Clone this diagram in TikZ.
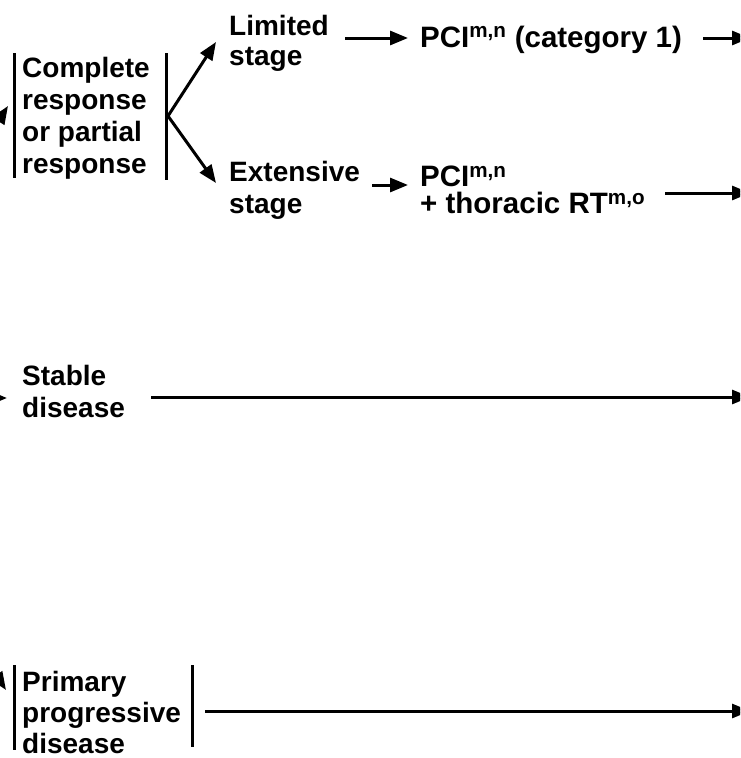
\documentclass[tikz,border=0pt]{standalone}
\usepackage{fontspec}
\setmainfont{Liberation Sans}
\usetikzlibrary{arrows.meta}
\begin{document}
\begin{tikzpicture}[x=1pt,y=-1pt,
  lbl/.style={font=\fontsize{28}{32}\selectfont\bfseries, align=left, anchor=west, inner sep=0pt},
  arr/.style={line width=3pt, -{Triangle[length=18pt,width=14pt]}},
  bar/.style={line width=3pt},
  ln/.style={line width=3pt}]
\useasboundingbox (0,0) rectangle (740,758);
\clip (0,0) rectangle (740,758);

% text nodes
\node[lbl] (cr) at (22,118) {Complete\\response\\or partial\\response};
\node[lbl, font=\fontsize{28}{30}\selectfont\bfseries] (lim) at (229,43) {Limited\\stage};
\node[lbl, font=\fontsize{28}{32}\selectfont\bfseries] (ext) at (229,190) {Extensive\\stage};
\node[lbl, anchor=base west, font=\fontsize{29.5}{32}\selectfont\bfseries] (pci1) at (420,47) {PCI\textsuperscript{m,n} (category 1)};
\node[lbl, font=\fontsize{29.5}{27.5}\selectfont\bfseries] (pci2) at (420,190) {PCI\textsuperscript{m,n}\\+ thoracic RT\textsuperscript{m,o}};
\node[lbl] (sd) at (22,391) {Stable\\disease};
\node[lbl, font=\fontsize{28}{31}\selectfont\bfseries] (pd) at (22,712) {Primary\\progressive\\disease};

% bars
\draw[bar] (14,53) -- (14,178);
\draw[bar] (166,53) -- (166,180);
\draw[bar] (14,665) -- (14,750);
\draw[bar] (192,665) -- (192,747);

% coordinates
\coordinate (fork) at (168,116);
\coordinate (limtip) at (216,42);
\coordinate (exttip) at (216,183);
\coordinate (a1s) at (345,38);
\coordinate (a1e) at (408,38);
\coordinate (a2s) at (372,185);
\coordinate (a2e) at (408,185);
\coordinate (o1s) at (703,38);
\coordinate (o1e) at (750,38);
\coordinate (o2s) at (665,193);
\coordinate (o2e) at (750,193);
\coordinate (o3s) at (151,397);
\coordinate (o3e) at (750,397);
\coordinate (o4s) at (205,711);
\coordinate (o4e) at (750,711);
\coordinate (in1s) at (-40,180);
\coordinate (in1e) at (8,106);
\coordinate (in2s) at (-40,398);
\coordinate (in2e) at (7,398);
\coordinate (in3s) at (-40,620);
\coordinate (in3e) at (6,690);

% connectors
\draw[arr] (fork) -- (limtip);
\draw[arr] (fork) -- (exttip);
\draw[arr] (a1s) -- (a1e);
\draw[arr] (a2s) -- (a2e);
\draw[arr] (o1s) -- (o1e);
\draw[arr] (o2s) -- (o2e);
\draw[arr] (o3s) -- (o3e);
\draw[arr] (o4s) -- (o4e);
\draw[arr] (in1s) -- (in1e);
\draw[arr] (in2s) -- (in2e);
\draw[arr] (in3s) -- (in3e);
\end{tikzpicture}
\end{document}
